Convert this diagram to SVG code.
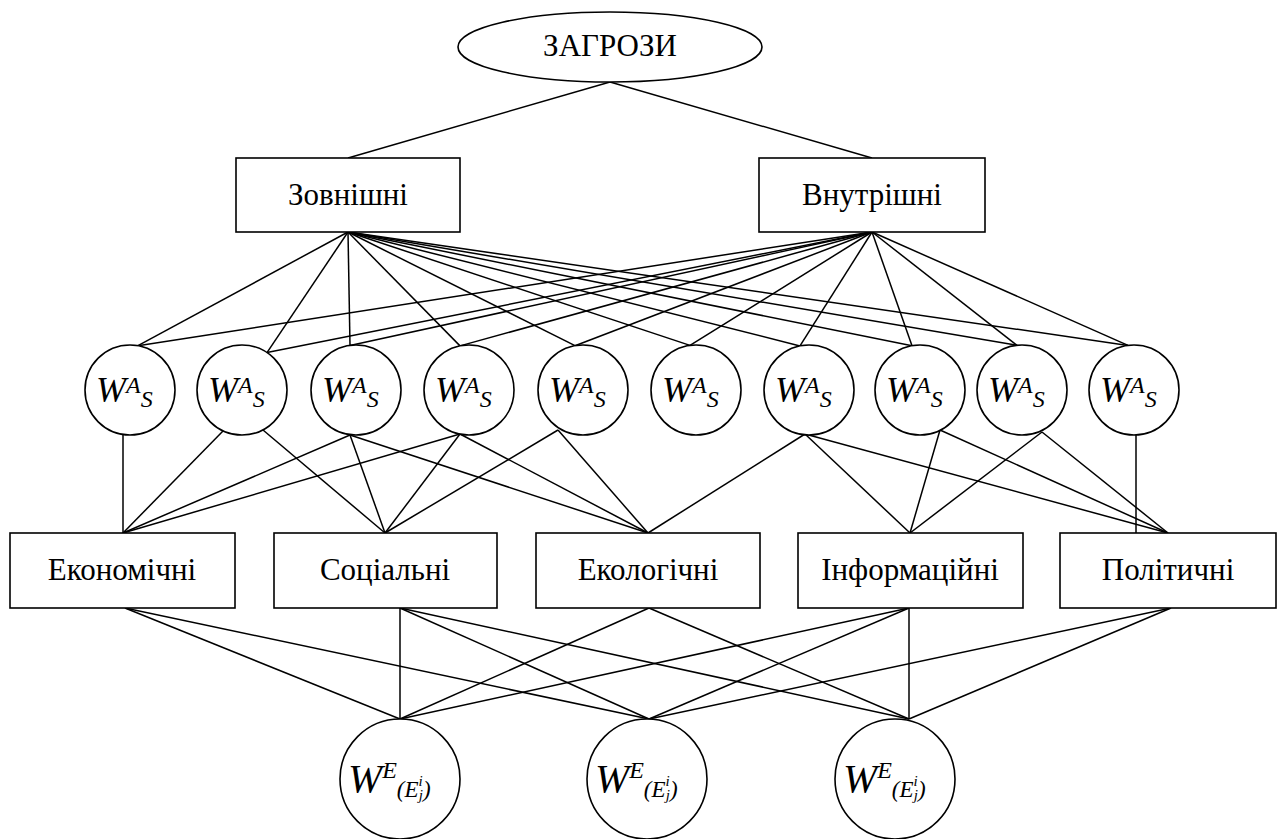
<svg xmlns="http://www.w3.org/2000/svg" width="1287" height="839" viewBox="0 0 1287 839">
<style>
.s{fill:#fff;stroke:#000;stroke-width:1.6}
.l{stroke:#000;stroke-width:1.5;fill:none}
</style>
<rect width="1287" height="839" fill="#fff"/>
<g id="connectors" class="l">
<line x1="610" y1="82" x2="348" y2="158"/>
<line x1="610" y1="82" x2="872" y2="158"/>
<g id="top-links">
<line x1="348" y1="232" x2="138" y2="345.7"/>
<line x1="348" y1="232" x2="267" y2="352.6"/>
<line x1="348" y1="232" x2="350" y2="345.4"/>
<line x1="348" y1="232" x2="460" y2="345.9"/>
<line x1="348" y1="232" x2="575" y2="345.7"/>
<line x1="348" y1="232" x2="690" y2="345.4"/>
<line x1="348" y1="232" x2="800" y2="345.9"/>
<line x1="348" y1="232" x2="912" y2="345.7"/>
<line x1="348" y1="232" x2="1017" y2="345.3"/>
<line x1="348" y1="232" x2="1128" y2="345.4"/>
<line x1="872" y1="232" x2="138" y2="345.7"/>
<line x1="872" y1="232" x2="267" y2="352.6"/>
<line x1="872" y1="232" x2="350" y2="345.4"/>
<line x1="872" y1="232" x2="460" y2="345.9"/>
<line x1="872" y1="232" x2="575" y2="345.7"/>
<line x1="872" y1="232" x2="690" y2="345.4"/>
<line x1="872" y1="232" x2="800" y2="345.9"/>
<line x1="872" y1="232" x2="912" y2="345.7"/>
<line x1="872" y1="232" x2="1017" y2="345.3"/>
<line x1="872" y1="232" x2="1128" y2="345.4"/>
</g>
<g id="mid-links">
<line x1="123" y1="434.5" x2="123" y2="533"/>
<line x1="223" y1="431" x2="123" y2="533"/>
<line x1="263" y1="430" x2="385" y2="533"/>
<line x1="350" y1="435" x2="123" y2="533"/>
<line x1="350" y1="435" x2="385" y2="533"/>
<line x1="350" y1="435" x2="648" y2="533"/>
<line x1="460" y1="434" x2="123" y2="533"/>
<line x1="460" y1="434" x2="385" y2="533"/>
<line x1="460" y1="434" x2="648" y2="533"/>
<line x1="558" y1="430" x2="385" y2="533"/>
<line x1="558" y1="430" x2="648" y2="533"/>
<line x1="805" y1="434" x2="648" y2="533"/>
<line x1="805" y1="434" x2="910" y2="533"/>
<line x1="805" y1="434" x2="1168" y2="533"/>
<line x1="940" y1="430" x2="910" y2="533"/>
<line x1="940" y1="430" x2="1168" y2="533"/>
<line x1="1042" y1="432" x2="910" y2="533"/>
<line x1="1042" y1="432" x2="1168" y2="533"/>
<line x1="1136" y1="435" x2="1136" y2="533"/>
</g>
<g id="bottom-links">
<line x1="125" y1="608" x2="400" y2="719"/>
<line x1="125" y1="608" x2="649" y2="719"/>
<line x1="400" y1="608" x2="400" y2="719"/>
<line x1="400" y1="608" x2="649" y2="719"/>
<line x1="400" y1="608" x2="909" y2="719"/>
<line x1="649" y1="608" x2="400" y2="719"/>
<line x1="649" y1="608" x2="909" y2="719"/>
<line x1="909" y1="608" x2="400" y2="719"/>
<line x1="909" y1="608" x2="649" y2="719"/>
<line x1="909" y1="608" x2="909" y2="719"/>
<line x1="1171" y1="608" x2="649" y2="719"/>
<line x1="1171" y1="608" x2="909" y2="719"/>
</g>
</g>
<g id="threats"><ellipse class="s" cx="610" cy="47" rx="152" ry="35"/><text x="610" y="56" font-family="Liberation Serif" font-size="31" text-anchor="middle">ЗАГРОЗИ</text></g>
<g id="external"><rect class="s" x="236" y="158" width="224" height="74"/><text x="348" y="205" font-family="Liberation Serif" font-size="31" text-anchor="middle">Зовнішні</text></g>
<g id="internal"><rect class="s" x="759" y="158" width="226" height="74"/><text x="872" y="205" font-family="Liberation Serif" font-size="31" text-anchor="middle">Внутрішні</text></g>
<g id="was1"><circle class="s" cx="130" cy="390" r="45"/><text font-family="Liberation Serif" font-style="italic" x="96" y="402" font-size="36">W<tspan font-size="24" dy="-9">A</tspan><tspan font-size="24" dy="14">S</tspan></text></g>
<g id="was2"><circle class="s" cx="242" cy="390" r="45"/><text font-family="Liberation Serif" font-style="italic" x="208" y="402" font-size="36">W<tspan font-size="24" dy="-9">A</tspan><tspan font-size="24" dy="14">S</tspan></text></g>
<g id="was3"><circle class="s" cx="356" cy="390" r="45"/><text font-family="Liberation Serif" font-style="italic" x="322" y="402" font-size="36">W<tspan font-size="24" dy="-9">A</tspan><tspan font-size="24" dy="14">S</tspan></text></g>
<g id="was4"><circle class="s" cx="469" cy="390" r="45"/><text font-family="Liberation Serif" font-style="italic" x="435" y="402" font-size="36">W<tspan font-size="24" dy="-9">A</tspan><tspan font-size="24" dy="14">S</tspan></text></g>
<g id="was5"><circle class="s" cx="583" cy="390" r="45"/><text font-family="Liberation Serif" font-style="italic" x="549" y="402" font-size="36">W<tspan font-size="24" dy="-9">A</tspan><tspan font-size="24" dy="14">S</tspan></text></g>
<g id="was6"><circle class="s" cx="696" cy="390" r="45"/><text font-family="Liberation Serif" font-style="italic" x="662" y="402" font-size="36">W<tspan font-size="24" dy="-9">A</tspan><tspan font-size="24" dy="14">S</tspan></text></g>
<g id="was7"><circle class="s" cx="809" cy="390" r="45"/><text font-family="Liberation Serif" font-style="italic" x="775" y="402" font-size="36">W<tspan font-size="24" dy="-9">A</tspan><tspan font-size="24" dy="14">S</tspan></text></g>
<g id="was8"><circle class="s" cx="920" cy="390" r="45"/><text font-family="Liberation Serif" font-style="italic" x="886" y="402" font-size="36">W<tspan font-size="24" dy="-9">A</tspan><tspan font-size="24" dy="14">S</tspan></text></g>
<g id="was9"><circle class="s" cx="1022" cy="390" r="45"/><text font-family="Liberation Serif" font-style="italic" x="988" y="402" font-size="36">W<tspan font-size="24" dy="-9">A</tspan><tspan font-size="24" dy="14">S</tspan></text></g>
<g id="was10"><circle class="s" cx="1134" cy="390" r="45"/><text font-family="Liberation Serif" font-style="italic" x="1100" y="402" font-size="36">W<tspan font-size="24" dy="-9">A</tspan><tspan font-size="24" dy="14">S</tspan></text></g>
<g id="economic"><rect class="s" x="10" y="533" width="225" height="75"/><text x="122" y="580" font-family="Liberation Serif" font-size="31" text-anchor="middle">Економічні</text></g>
<g id="social"><rect class="s" x="274" y="533" width="223" height="75"/><text x="385" y="580" font-family="Liberation Serif" font-size="31" text-anchor="middle">Соціальні</text></g>
<g id="ecological"><rect class="s" x="536" y="533" width="224" height="75"/><text x="648" y="580" font-family="Liberation Serif" font-size="31" text-anchor="middle">Екологічні</text></g>
<g id="informational"><rect class="s" x="798" y="533" width="225" height="75"/><text x="910" y="580" font-family="Liberation Serif" font-size="31" text-anchor="middle">Інформаційні</text></g>
<g id="political"><rect class="s" x="1060" y="533" width="216" height="75"/><text x="1168" y="580" font-family="Liberation Serif" font-size="31" text-anchor="middle">Політичні</text></g>
<g id="we1"><circle class="s" cx="400" cy="779" r="60"/><text font-family="Liberation Serif" font-style="italic" x="348" y="792" font-size="41">W<tspan font-size="24" dy="-14">E</tspan><tspan font-size="23" dy="19">(E</tspan><tspan font-size="15" dy="-11">i</tspan><tspan font-size="15" dx="-4" dy="14">j</tspan><tspan font-size="23" dy="-3">)</tspan></text></g>
<g id="we2"><circle class="s" cx="647" cy="779" r="60"/><text font-family="Liberation Serif" font-style="italic" x="595" y="792" font-size="41">W<tspan font-size="24" dy="-14">E</tspan><tspan font-size="23" dy="19">(E</tspan><tspan font-size="15" dy="-11">i</tspan><tspan font-size="15" dx="-4" dy="14">j</tspan><tspan font-size="23" dy="-3">)</tspan></text></g>
<g id="we3"><circle class="s" cx="895" cy="779" r="60"/><text font-family="Liberation Serif" font-style="italic" x="843" y="792" font-size="41">W<tspan font-size="24" dy="-14">E</tspan><tspan font-size="23" dy="19">(E</tspan><tspan font-size="15" dy="-11">i</tspan><tspan font-size="15" dx="-4" dy="14">j</tspan><tspan font-size="23" dy="-3">)</tspan></text></g>
</svg>
